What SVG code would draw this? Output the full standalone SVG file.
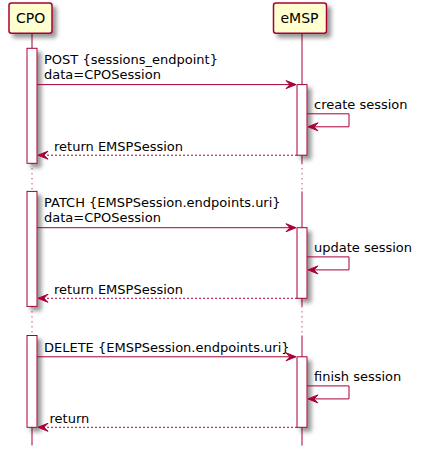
<svg xmlns="http://www.w3.org/2000/svg" width="422" height="456" viewBox="0 0 422 456">
<defs>
<filter id="sh" x="-1" y="-1" width="300%" height="300%">
<feGaussianBlur stdDeviation="2" result="b"/>
<feColorMatrix in="b" type="matrix" values="0 0 0 0 0 0 0 0 0 0 0 0 0 0 0 0 0 0 .4 0" result="b2"/>
<feOffset dx="4" dy="4" in="b2" result="b3"/>
<feBlend in="SourceGraphic" in2="b3" mode="normal"/>
</filter>
</defs>
<style>
.life{stroke:#A80036;stroke-width:1;fill:none}
.dot{stroke:#A80036;stroke-width:1;stroke-dasharray:1,4;fill:none}
.part{fill:#FEFECE;stroke:#A80036;stroke-width:1.5}
.act{fill:#FFFFFF;stroke:#A80036;stroke-width:1}
.msg{stroke:#A80036;stroke-width:1;fill:none}
.ret{stroke:#A80036;stroke-width:1;stroke-dasharray:2,2;fill:none}
.head{fill:#A80036;stroke:#A80036;stroke-width:1}
.pt{font-family:"DejaVu Sans",sans-serif;font-size:14px;fill:#000}
.mt{font-family:"DejaVu Sans",sans-serif;font-size:13px;fill:#000}
</style>
<rect width="422" height="456" fill="#FFFFFF"/>
<g id="lifelines">
<path class="life" d="M32,33.5 V163.3 M32,191.4 V306.4 M32,335.5 V445.5"/>
<path class="dot" d="M32,163.3 V191.4 M32,306.4 V335.5"/>
<path class="life" d="M302,33.5 V163.3 M302,191.4 V306.4 M302,335.5 V445.5"/>
<path class="dot" d="M302,163.3 V191.4 M302,306.4 V335.5"/>
</g>
<g id="CPO">
<rect class="part" x="9" y="3" width="43" height="30.3" rx="2.5" filter="url(#sh)"/>
<text class="pt" x="16" y="23">CPO</text>
</g>
<g id="eMSP">
<rect class="part" x="273.5" y="3" width="53" height="30.3" rx="2.5" filter="url(#sh)"/>
<text class="pt" x="280.5" y="23">eMSP</text>
</g>
<g id="activations">
<rect class="act" x="27" y="48.3" width="10" height="115" filter="url(#sh)"/>
<rect class="act" x="27" y="191.4" width="10" height="115" filter="url(#sh)"/>
<rect class="act" x="27" y="335.5" width="10" height="91.8" filter="url(#sh)"/>
<rect class="act" x="297" y="84.6" width="10" height="70.6" filter="url(#sh)"/>
<rect class="act" x="297" y="227.7" width="10" height="70.6" filter="url(#sh)"/>
<rect class="act" x="297" y="356.8" width="10" height="70.5" filter="url(#sh)"/>
</g>
<g id="connectors">
<!-- block 1 -->
<line class="msg" x1="37" y1="84.6" x2="295" y2="84.6"/>
<polygon class="head" points="286,80.6 296,84.6 286,88.6 290,84.6"/>
<text class="mt" x="44" y="64.1">POST {sessions_endpoint}</text>
<text class="mt" x="44" y="79.3">data=CPOSession</text>
<polyline class="msg" points="307,113.8 349,113.8 349,126.8 309,126.8"/>
<polygon class="head" points="318,122.8 308,126.8 318,130.8 314,126.8"/>
<text class="mt" x="314" y="108.7">create session</text>
<line class="ret" x1="297" y1="155.2" x2="39" y2="155.2"/>
<polygon class="head" points="48,151.2 38,155.2 48,159.2 44,155.2"/>
<text class="mt" x="54" y="150.9">return EMSPSession</text>
<!-- block 2 -->
<line class="msg" x1="37" y1="227.7" x2="295" y2="227.7"/>
<polygon class="head" points="286,223.7 296,227.7 286,231.7 290,227.7"/>
<text class="mt" x="44" y="207.2">PATCH {EMSPSession.endpoints.uri}</text>
<text class="mt" x="44" y="222.4">data=CPOSession</text>
<polyline class="msg" points="307,256.9 349,256.9 349,269.9 309,269.9"/>
<polygon class="head" points="318,265.9 308,269.9 318,273.9 314,269.9"/>
<text class="mt" x="314" y="251.8">update session</text>
<line class="ret" x1="297" y1="298.3" x2="39" y2="298.3"/>
<polygon class="head" points="48,294.3 38,298.3 48,302.3 44,298.3"/>
<text class="mt" x="54" y="294">return EMSPSession</text>
<!-- block 3 -->
<line class="msg" x1="37" y1="356.8" x2="295" y2="356.8"/>
<polygon class="head" points="286,352.8 296,356.8 286,360.8 290,356.8"/>
<text class="mt" x="44" y="351.5">DELETE {EMSPSession.endpoints.uri}</text>
<polyline class="msg" points="307,385.9 349,385.9 349,398.9 309,398.9"/>
<polygon class="head" points="318,394.9 308,398.9 318,402.9 314,398.9"/>
<text class="mt" x="314" y="380.8">finish session</text>
<line class="ret" x1="297" y1="427.3" x2="39" y2="427.3"/>
<polygon class="head" points="48,423.3 38,427.3 48,431.3 44,427.3"/>
<text class="mt" x="49.5" y="423">return</text>
</g>
</svg>
